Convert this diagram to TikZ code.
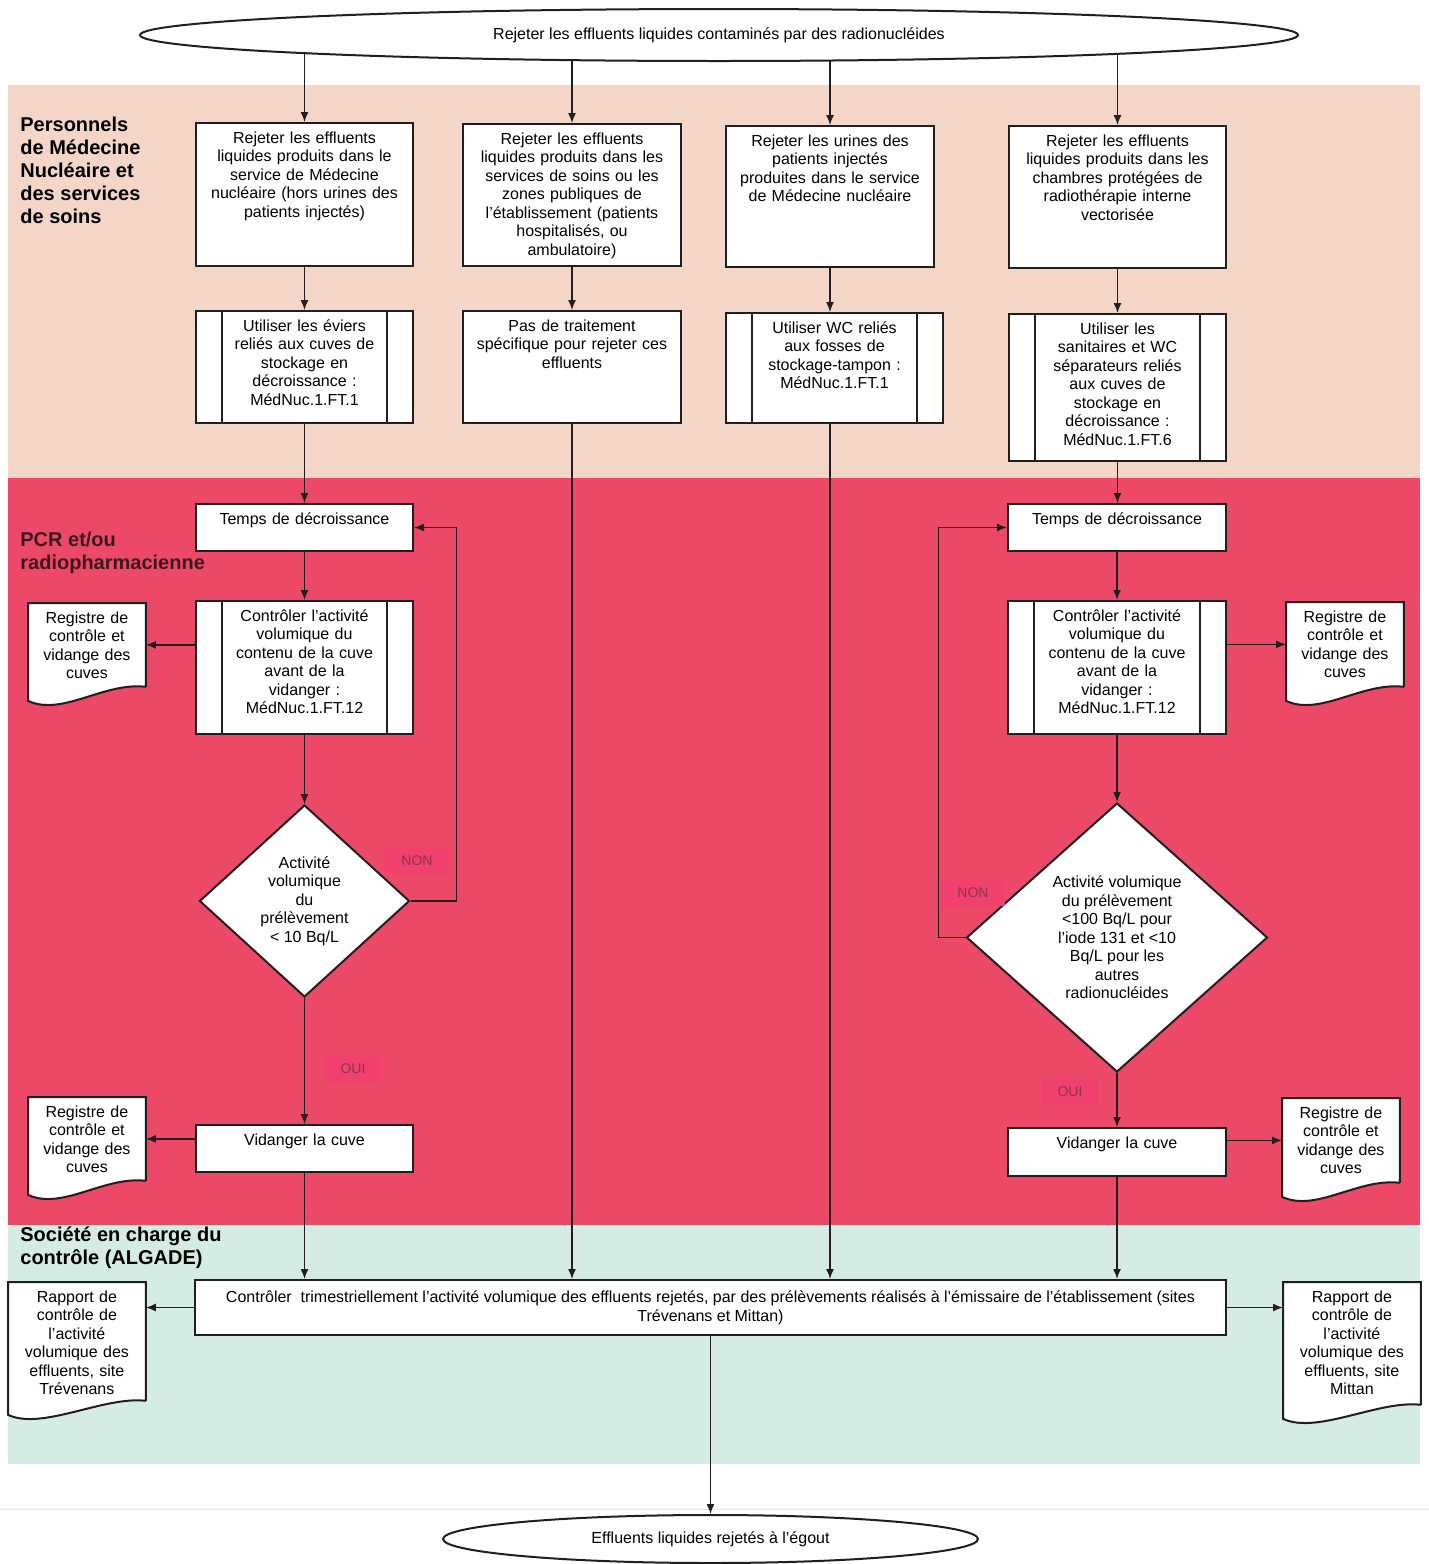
\documentclass[tikz,border=0pt]{standalone}
\usepackage{fontspec}
\setmainfont{Liberation Sans}
\usetikzlibrary{shapes.geometric, arrows.meta}

\definecolor{peche}{RGB}{244,214,200}
\definecolor{rouge}{RGB}{236,72,104}
\definecolor{vert}{RGB}{213,236,226}
\definecolor{trait}{RGB}{35,30,30}
\definecolor{labelrouge}{RGB}{60,24,30}
\definecolor{ouinoncol}{RGB}{140,55,75}
\definecolor{rose}{RGB}{241,64,110}

\newcommand{\txtboite}{\fontsize{8}{9.25}\selectfont}
\newcommand{\txtcouloir}{\fontsize{10}{11.5}\selectfont\bfseries}

\pgfdeclarelayer{fond}
\pgfdeclarelayer{liens}
\pgfsetlayers{fond,liens,main}

% document shape with wavy bottom
\newcommand{\docbord}[1]{%
\begin{pgfonlayer}{liens}
\draw[trait, line width=1pt, fill=white] (#1.south east) -- (#1.north east) -- (#1.north west)
  -- ([yshift=-7pt]#1.south west) .. controls +(17pt,-8pt) and +(-21pt,2.5pt) .. (#1.south east);
\end{pgfonlayer}}

\begin{document}
\begin{tikzpicture}[x=0.5pt, y=-0.5pt,
  boite/.style={draw=trait, line width=1pt, fill=white, inner xsep=3pt, inner ysep=4pt,
    minimum width=#1, text width=#1-6pt, align=center, anchor=north, font=\txtboite},
  haut/.style={text height=6pt, text depth=#1-14pt},
  predef/.style={boite=#1, path picture={
    \draw[trait, line width=1pt]
      ([xshift=13pt]path picture bounding box.north west) -- ([xshift=13pt]path picture bounding box.south west)
      ([xshift=-13pt]path picture bounding box.north east) -- ([xshift=-13pt]path picture bounding box.south east);}},
  losange/.style={diamond, draw=trait, line width=1pt, fill=white, inner sep=0pt,
    align=center, font=\txtboite},
  docu/.style={minimum width=#1, text width=#1-4pt, inner xsep=2pt, inner ysep=4pt, text height=6pt,
    anchor=north west, align=center, font=\txtboite},
  fleche/.style={draw=trait, line width=0.7pt, -{Latex[length=5pt,width=4pt]}},
  ouinon/.style={text=ouinoncol, fill=rose, font=\fontsize{7}{8}\selectfont,
    inner xsep=8pt, inner ysep=4pt},
  couloir/.style={anchor=north west, align=left, font=\txtcouloir, inner sep=0pt}]

\useasboundingbox (0,0) rectangle (1429,1564);

% swimlanes
\begin{pgfonlayer}{fond}
\fill[peche] (8,85) rectangle (1420,478);
\fill[rouge] (8,478) rectangle (1420,1225);
\fill[vert] (8,1225) rectangle (1420,1464);
\draw[gray!20] (0,1509) -- (1429,1509);
\end{pgfonlayer}

\node[couloir] (lane1) at (20,117) {Personnels\\de Médecine\\Nucléaire et\\des services\\de soins};
\node[couloir, text=labelrouge] (lane2) at (20,532) {PCR et/ou\\radiopharmacienne};
\node[couloir] (lane3) at (20,1226) {Société en charge du\\contrôle (ALGADE)};

\node[ellipse, draw=trait, line width=1pt, fill=white, minimum width=579pt, minimum height=26pt,
  inner sep=0pt, font=\txtboite] (debut) at (719,35)
  {Rejeter les effluents liquides contaminés par des radionucléides};

\node[boite=108.5pt, haut=71.5pt] (b1) at (304.5,122)
  {Rejeter les effluents\\liquides produits dans le\\service de Médecine\\nucléaire (hors urines des\\patients injectés)};
\node[boite=109pt, haut=71pt] (b2) at (572,123)
  {Rejeter les effluents\\liquides produits dans les\\services de soins ou les\\zones publiques de\\l'établissement (patients\\hospitalisés, ou\\ambulatoire)};
\node[boite=104pt, haut=70.5pt] (b3) at (830,125)
  {Rejeter les urines des\\patients injectés\\produites dans le service\\de Médecine nucléaire};
\node[boite=108.5pt, haut=71pt] (b4) at (1117.5,125)
  {Rejeter les effluents\\liquides produits dans les\\chambres protégées de\\radiothérapie interne\\vectorisée};

\node[predef=108.5pt, haut=56pt] (p1) at (304.5,310)
  {Utiliser les éviers\\reliés aux cuves de\\stockage en\\décroissance :\\MédNuc.1.FT.1};
\node[boite=109pt, haut=56pt] (p2) at (572,310)
  {Pas de traitement\\spécifique pour rejeter ces\\effluents};
\node[predef=108.5pt, haut=55pt] (p3) at (834.5,312)
  {Utiliser WC reliés\\aux fosses de\\stockage-tampon :\\MédNuc.1.FT.1};
\node[predef=108.5pt, haut=73.5pt] (p4) at (1117.5,313)
  {Utiliser les\\sanitaires et WC\\séparateurs reliés\\aux cuves de\\stockage en\\décroissance :\\MédNuc.1.FT.6};

\node[boite=108.5pt, haut=23.5pt] (t1) at (304.5,503) {Temps de décroissance};
\node[boite=109pt, haut=23.5pt] (t4) at (1117,503) {Temps de décroissance};

\node[predef=108.5pt, haut=66.5pt] (c1) at (304.5,600)
  {Contrôler l'activité\\volumique du\\contenu de la cuve\\avant de la\\vidanger :\\MédNuc.1.FT.12};
\node[predef=109pt, haut=66.5pt] (c4) at (1117,600)
  {Contrôler l'activité\\volumique du\\contenu de la cuve\\avant de la\\vidanger :\\MédNuc.1.FT.12};

\node[docu=58.5pt, text depth=27.5pt] (r1) at (28,603) {Registre de\\contrôle et\\vidange des\\cuves};
\node[docu=58.5pt, text depth=28pt] (r2) at (1286,602) {Registre de\\contrôle et\\vidange des\\cuves};

\node[losange, minimum width=105pt, minimum height=96pt] (d1) at (304.5,901)
  {Activité\\volumique\\du\\prélèvement\\< 10 Bq/L};
\node[losange, minimum width=150.5pt, minimum height=134.5pt] (d4) at (1117,937.5)
  {Activité volumique\\du prélèvement\\<100 Bq/L pour\\l'iode 131 et <10\\Bq/L pour les\\autres\\radionucléides};

\node[ouinon] (non1) at (417,861) {NON};
\node[ouinon] (non4) at (973,893) {NON};
\node[ouinon] (oui1) at (353,1069) {OUI};
\node[ouinon] (oui4) at (1070,1092) {OUI};

\node[boite=108.5pt, haut=23.5pt] (v1) at (304.5,1124) {Vidanger la cuve};
\node[boite=109pt, haut=24pt] (v4) at (1117,1127) {Vidanger la cuve};

\node[docu=58.5pt, text depth=27.5pt] (r3) at (28,1097) {Registre de\\contrôle et\\vidange des\\cuves};
\node[docu=58.5pt, text depth=28pt] (r4) at (1282,1098) {Registre de\\contrôle et\\vidange des\\cuves};

\node[draw=trait, line width=1pt, fill=white, minimum width=515.5pt, minimum height=27.5pt,
  inner sep=2pt, align=center, font=\txtboite] (f) at (710.5,1307.5)
  {Contrôler\ \ trimestriellement l'activité volumique des effluents rejetés, par des prélèvements réalisés à l'émissaire de l'établissement (sites\\Trévenans et Mittan)};

\node[docu=68.5pt, text depth=45pt] (rap1) at (8,1282)
  {Rapport de\\contrôle de\\l'activité\\volumique des\\effluents, site\\Trévenans};
\node[docu=68.5pt, text depth=47pt] (rap2) at (1283,1282)
  {Rapport de\\contrôle de\\l'activité\\volumique des\\effluents, site\\Mittan};

\node[ellipse, draw=trait, line width=1pt, fill=white, minimum width=267.5pt, minimum height=24pt,
  inner sep=0pt, font=\txtboite] (fin) at (710.5,1539) {Effluents liquides rejetés à l'égout};

\docbord{r1}
\docbord{r2}
\docbord{r3}
\docbord{r4}
\docbord{rap1}
\docbord{rap2}

\begin{pgfonlayer}{liens}
\foreach \n in {b1,b2,b3,b4}
  \draw[fleche] (debut.center -| \n.north) -- (\n.north);
\draw[fleche] (b1.south) -- (p1.north);
\draw[fleche] (b2.south) -- (p2.north);
\draw[fleche] (b3.south) -- (b3.south |- p3.north);
\draw[fleche] (b4.south) -- (p4.north);
\draw[fleche] (p1.south) -- (t1.north);
\draw[fleche] (p4.south) -- (p4.south |- t4.north);
\draw[fleche] (t1.south) -- (c1.north);
\draw[fleche] (t4.south) -- (c4.north);
\draw[fleche] (c1.south) -- (d1.north);
\draw[fleche] (c4.south) -- (d4.north);
\draw[fleche] (d1.south) -- (v1.north);
\draw[fleche] (d4.south) -- (v4.north);
\draw[fleche] (d1.east) -- ++(23pt,0) |- (t1.east);
\draw[fleche] (d4.west) -- ++(-13.5pt,0) |- (t4.west);
\draw[fleche] (r1.east -| c1.west) -- (r1.east);
\draw[fleche] (r2.west -| c4.east) -- (r2.west);
\draw[fleche] (r3.east -| v1.west) -- (r3.east);
\draw[fleche] (r4.west -| v4.east) -- (r4.west);
\draw[fleche] (v1.south) -- (v1.south |- f.north);
\draw[fleche] (p2.south) -- (p2.south |- f.north);
\draw[fleche] (b3.south |- p3.south) -- (b3.south |- f.north);
\draw[fleche] (v4.south) -- (v4.south |- f.north);
\draw[fleche] (f.west) -- (f.west -| rap1.east);
\draw[fleche] (f.east) -- (f.east -| rap2.west);
\draw[fleche] (f.south) -- (fin.north);
\end{pgfonlayer}
\end{tikzpicture}
\end{document}
